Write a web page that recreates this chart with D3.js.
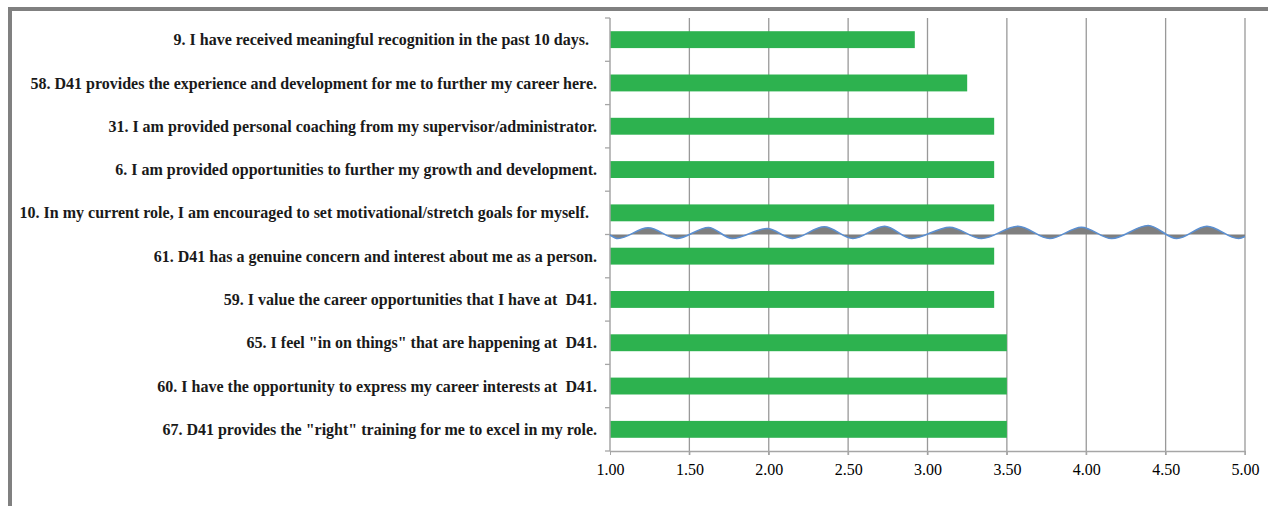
<!DOCTYPE html>
<html><head><meta charset="utf-8">
<script src="https://cdn.jsdelivr.net/npm/d3@7/dist/d3.min.js"></script>
<style>
html,body{margin:0;padding:0;background:#fff;overflow:hidden}
text{white-space:pre}
</style></head>
<body>
<svg id="chart" width="1268" height="506"></svg>
<script>
const categories = [
  "9. I have received meaningful recognition in the past 10 days.  ",
  "58. D41 provides the experience and development for me to further my career here.",
  "31. I am provided personal coaching from my supervisor/administrator.",
  "6. I am provided opportunities to further my growth and development.",
  "10. In my current role, I am encouraged to set motivational/stretch goals for myself.  ",
  "61. D41 has a genuine concern and interest about me as a person.",
  "59. I value the career opportunities that I have at  D41.",
  "65. I feel \"in on things\" that are happening at  D41.",
  "60. I have the opportunity to express my career interests at  D41.",
  "67. D41 provides the \"right\" training for me to excel in my role."
];
const values = [2.92, 3.25, 3.42, 3.42, 3.42, 3.42, 3.42, 3.50, 3.50, 3.50];
const xTicks = [1.00, 1.50, 2.00, 2.50, 3.00, 3.50, 4.00, 4.50, 5.00];
// decorative wave between items 5 and 6 (x in score units, offset level)
const waveX = [1.00, 1.05, 1.24, 1.42, 1.62, 1.77, 1.99, 2.15, 2.35, 2.53, 2.73, 2.90, 3.14, 3.34, 3.57, 3.77, 3.97, 4.16, 4.39, 4.57, 4.76, 4.96, 5.00];
const waveY = [0.5, 4, -6.7, 4, -7, 4, -6, 4, -7.7, 4, -8.3, 4, -7.3, 4, -8.3, 4, -7.3, 4, -9, 4, -8.3, 4, 2];

const svg = d3.select("#chart");
const W = 1268, H = 506;
const m = {left: 610, right: 23, top: 18, bottom: 55};

// frame
svg.append("rect").attr("x", 10).attr("y", 9).attr("width", 1400).attr("height", 700)
  .attr("fill", "none").attr("stroke", "#808080").attr("stroke-width", 4);

const x = d3.scaleLinear().domain([1, 5]).range([m.left, W - m.right]);
const y = d3.scaleBand().domain(categories).range([m.top, H - m.bottom]).paddingInner(0.61).paddingOuter(0.305);
const step = y.step();
const yTop = m.top, yBot = H - m.bottom;

// gridlines
svg.append("g").selectAll("line").data(xTicks.slice(1)).join("line")
  .attr("x1", d => x(d)).attr("x2", d => x(d))
  .attr("y1", yTop).attr("y2", yBot + 4)
  .attr("stroke", "#999").attr("stroke-width", 1.3);

// bars
svg.append("g").selectAll("rect").data(values).join("rect")
  .attr("x", x(1)).attr("y", (d, i) => y(categories[i]))
  .attr("width", d => x(d) - x(1)).attr("height", y.bandwidth())
  .attr("fill", "#2db24f");

// axes
const xAxis = d3.axisBottom(x).tickValues(xTicks).tickFormat(d3.format(".2f")).tickSize(4).tickSizeOuter(0);
const gx = svg.append("g").attr("transform", `translate(0,${yBot})`).call(xAxis);
gx.select(".domain").attr("stroke", "#a6a6a6").attr("stroke-width", 1.5);
gx.selectAll(".tick line").attr("stroke", "#a6a6a6");
gx.selectAll("text").attr("font-family", "Liberation Serif, serif").attr("font-size", 16)
  .attr("fill", "#000").attr("dy", "1.05em").attr("y", 7);

// y axis line and ticks at band boundaries
const boundaries = d3.range(categories.length + 1).map(i => yTop + i * step);
svg.append("line").attr("x1", x(1)).attr("x2", x(1)).attr("y1", yTop).attr("y2", yBot)
  .attr("stroke", "#a6a6a6").attr("stroke-width", 1.5);
svg.append("g").selectAll("line").data(boundaries).join("line")
  .attr("x1", x(1) - 5).attr("x2", x(1)).attr("y1", d => d).attr("y2", d => d)
  .attr("stroke", "#a6a6a6").attr("stroke-width", 1.3);

// category labels
svg.append("g").selectAll("text").data(categories).join("text")
  .attr("x", 597).attr("y", d => y(d) + y.bandwidth() / 2)
  .attr("dy", "0.35em").attr("text-anchor", "end")
  .attr("font-family", "Liberation Serif, serif").attr("font-weight", "bold").attr("font-size", 16)
  .attr("fill", "#1a1a1a").text(d => d);

// wave
const base = yTop + 5 * step;
const wy = d3.scaleLinear().domain([-10, 10]).range([base - 10, base + 10]);
const pts = waveX.map((v, i) => [v, waveY[i]]);
svg.append("path").datum(pts)
  .attr("d", d3.area().x(d => x(d[0])).y0(base).y1(d => wy(d[1])).curve(d3.curveMonotoneX))
  .attr("fill", "#7f7f7f");
svg.append("path").datum(pts)
  .attr("d", d3.line().x(d => x(d[0])).y(d => wy(d[1])).curve(d3.curveMonotoneX))
  .attr("fill", "none").attr("stroke", "#5b8fd1").attr("stroke-width", 1.6);
</script>
</body></html>
